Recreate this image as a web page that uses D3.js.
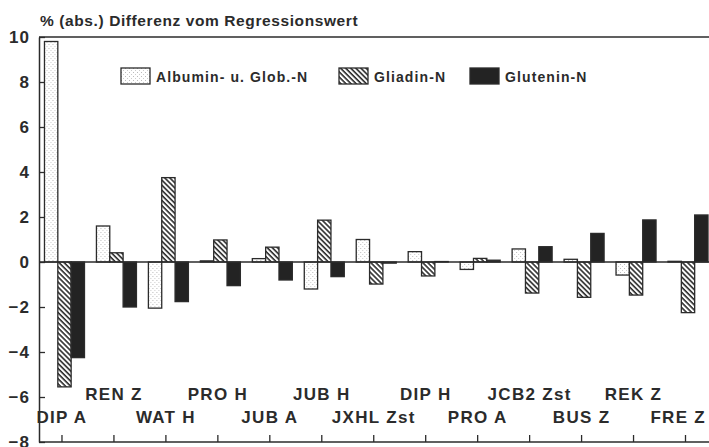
<!DOCTYPE html>
<html>
<head>
<meta charset="utf-8">
<script src="https://cdn.jsdelivr.net/npm/d3@7"></script>
<style>
body { margin: 0; background: #fff; }
text { font-family: "Liberation Sans", Arial, sans-serif; font-weight: bold; fill: #2b2b2b; }
</style>
</head>
<body>
<script>
var categories = ["DIP A", "REN Z", "WAT H", "PRO H", "JUB A", "JUB H", "JXHL Zst",
                  "DIP H", "PRO A", "JCB2 Zst", "BUS Z", "REK Z", "FRE Z"];
var albumin  = [9.8, 1.6, -2.05, 0.05, 0.15, -1.2, 1.0, 0.46, -0.33, 0.58, 0.12, -0.58, 0.03];
var gliadin  = [-5.55, 0.41, 3.75, 0.98, 0.66, 1.86, -0.98, -0.62, 0.16, -1.38, -1.57, -1.47, -2.25];
var glutenin = [-4.25, -2.0, -1.76, -1.05, -0.8, -0.65, -0.05, 0.02, 0.08, 0.68, 1.27, 1.87, 2.09];
var seriesNames = ["Albumin- u. Glob.-N", "Gliadin-N", "Glutenin-N"];
var yTicks = [-8, -6, -4, -2, 0, 2, 4, 6, 8, 10];

var width = 709, height = 447;
var ink = "#2b2b2b";

var svg = d3.select("body").append("svg")
    .attr("width", width)
    .attr("height", height);

var defs = svg.append("defs");
// stipple for albumin
var stip = defs.append("pattern")
    .attr("id", "stipple")
    .attr("patternUnits", "userSpaceOnUse")
    .attr("width", 4).attr("height", 4);
stip.append("rect").attr("width", 4).attr("height", 4).attr("fill", "#fff");
stip.append("rect").attr("x", 0).attr("y", 0).attr("width", 1).attr("height", 1).attr("fill", "#bbb");
stip.append("rect").attr("x", 2).attr("y", 2).attr("width", 1).attr("height", 1).attr("fill", "#ccc");
// hatch for gliadin
var hatch = defs.append("pattern")
    .attr("id", "hatch")
    .attr("patternUnits", "userSpaceOnUse")
    .attr("width", 3.6).attr("height", 3.6)
    .attr("patternTransform", "rotate(-45)");
hatch.append("rect").attr("width", 3.6).attr("height", 3.6).attr("fill", "#fff");
hatch.append("line").attr("x1", 1).attr("y1", 0).attr("x2", 1).attr("y2", 3.6)
    .attr("stroke", ink).attr("stroke-width", 1.6);

var fills = ["url(#stipple)", "url(#hatch)", "#232323"];

var x = d3.scaleBand()
    .domain(categories)
    .range([38.5, 38.5 + 51.96 * categories.length])
    .paddingInner(0.23)
    .paddingOuter(0.115);

var x1 = d3.scaleBand()
    .domain([0, 1, 2])
    .range([0, x.bandwidth()]);

var y = d3.scaleLinear()
    .domain([-8, 10])
    .range([442, 37]);

var left = 39, right = width;

// bars
var rows = categories.map(function(c, i) {
    return [albumin[i], gliadin[i], glutenin[i]];
});

var groups = svg.append("g").attr("class", "bars")
  .selectAll("g")
  .data(rows)
  .enter().append("g")
    .attr("transform", function(d, i) { return "translate(" + x(categories[i]) + ",0)"; });

groups.selectAll("rect")
  .data(function(d) { return d; })
  .enter().append("rect")
    .attr("x", function(d, j) { return x1(j); })
    .attr("y", function(d) { return y(Math.max(0, d)); })
    .attr("width", x1.bandwidth())
    .attr("height", function(d) { return Math.abs(y(d) - y(0)); })
    .attr("fill", function(d, j) { return fills[j]; })
    .attr("stroke", ink)
    .attr("stroke-width", 1.3);

// zero line
svg.append("line")
    .attr("x1", left).attr("x2", right)
    .attr("y1", y(0)).attr("y2", y(0))
    .attr("stroke", ink).attr("stroke-width", 1.3);

// frame: top line
svg.append("line")
    .attr("x1", left).attr("x2", right)
    .attr("y1", y(10)).attr("y2", y(10))
    .attr("stroke", ink).attr("stroke-width", 1.3);

// y axis
var yAxis = d3.axisLeft(y).tickValues(yTicks).tickSizeInner(-6).tickSizeOuter(0).tickPadding(9);
var gy = svg.append("g")
    .attr("transform", "translate(" + left + ",0)")
    .call(yAxis);
gy.select(".domain").attr("stroke", ink).attr("stroke-width", 1.5);
gy.selectAll(".tick line").attr("stroke", ink).attr("stroke-width", 1.3);
gy.selectAll(".tick text")
    .attr("font-size", 17)
    .attr("letter-spacing", 1)
    .attr("fill", ink)
    .style("font-family", "'Liberation Sans', Arial, sans-serif")
    .style("font-weight", "bold");

// x axis (ticks inward)
var xAxis = d3.axisBottom(x).tickSizeInner(-7).tickSizeOuter(0).tickFormat("");
var gx = svg.append("g")
    .attr("transform", "translate(-2.5," + y(-8) + ")")
    .call(xAxis);
gx.select(".domain").remove();
gx.selectAll(".tick line").attr("stroke", ink).attr("stroke-width", 1.3);
svg.append("line")
    .attr("x1", left).attr("x2", right)
    .attr("y1", y(-8)).attr("y2", y(-8))
    .attr("stroke", ink).attr("stroke-width", 1.3);

// category labels in two staggered rows
var last = categories.length - 1;
svg.append("g").selectAll("text")
  .data(categories)
  .enter().append("text")
    .attr("x", function(d, i) { return i === last ? 706 : x(d) + x.bandwidth() / 2 - 2.5; })
    .attr("y", function(d, i) { return i % 2 ? 400 : 423; })
    .attr("text-anchor", function(d, i) { return i === last ? "end" : "middle"; })
    .attr("font-size", 17)
    .attr("letter-spacing", 1.3)
    .text(function(d) { return d; });

// title
svg.append("text")
    .attr("x", 40)
    .attr("y", 26)
    .attr("font-size", 15.5)
    .attr("letter-spacing", 0.6)
    .text("% (abs.) Differenz vom Regressionswert");

// legend
var legendX = [121, 339, 470];
var lg = svg.append("g").selectAll("g")
  .data(seriesNames)
  .enter().append("g")
    .attr("transform", function(d, i) { return "translate(" + legendX[i] + ",68)"; });
lg.append("rect")
    .attr("width", 29).attr("height", 16)
    .attr("fill", function(d, i) { return fills[i]; })
    .attr("stroke", ink).attr("stroke-width", 1.3);
lg.append("text")
    .attr("x", 35)
    .attr("y", 14)
    .attr("font-size", 14)
    .attr("letter-spacing", 1.1)
    .text(function(d) { return d; });
</script>
</body>
</html>
